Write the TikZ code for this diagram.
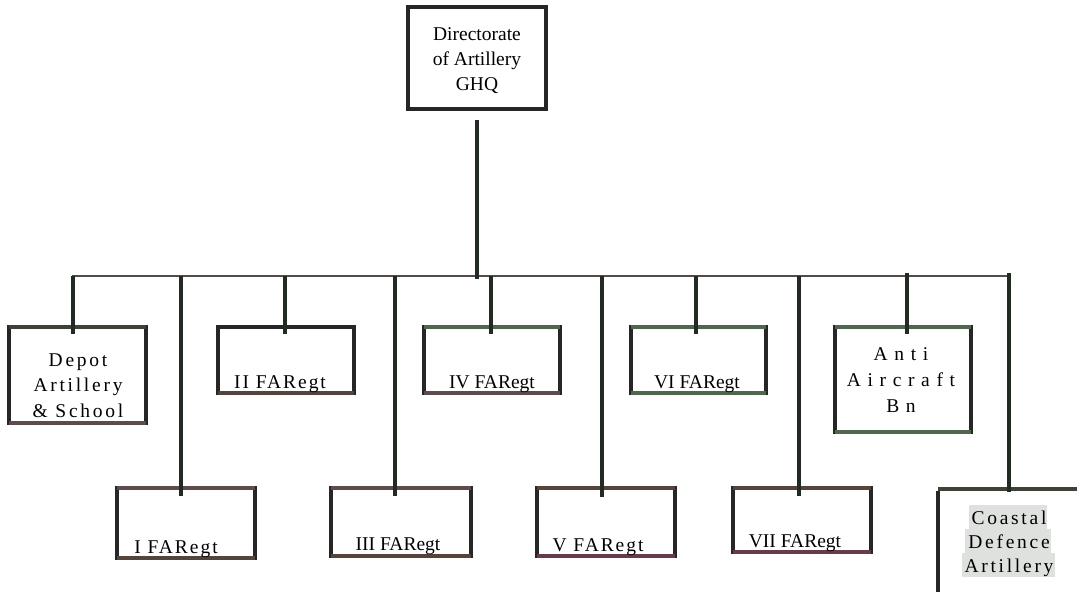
\documentclass[tikz,border=0pt]{standalone}
\usepackage{fontspec}
\setmainfont{Liberation Serif}
% tracked variants of the serif face
\newfontfamily\trackA[LetterSpace=10]{Liberation Serif}
\newfontfamily\trackB[LetterSpace=14]{Liberation Serif}
\newfontfamily\trackC[LetterSpace=34]{Liberation Serif}

\definecolor{edgec}{HTML}{262626}
\definecolor{busc}{HTML}{574A4C}
\definecolor{dropc}{HTML}{212B21}
\definecolor{olivec}{HTML}{3D4235}
\definecolor{greenc}{HTML}{4D684D}
\definecolor{brownc}{HTML}{55443C}
\definecolor{maroonc}{HTML}{6A3A48}
\definecolor{mauvec}{HTML}{5E4C4C}
\definecolor{hlgray}{HTML}{DFE1DF}

% grey band behind each line of the coastal label
\newcommand{\hlband}[1]{{\setlength{\fboxsep}{0pt}\colorbox{hlgray}{\rule[-5pt]{0pt}{24.5pt}\hspace{3pt}#1\hspace{1pt}}}}

\begin{document}
\begin{tikzpicture}[x=1pt,y=-1pt,
  box/.style={draw=edgec, line width=3.2pt, rectangle, inner sep=0pt, outer sep=0pt},
  lbl/.style={font=\fontsize{19.5}{25}\selectfont, inner sep=0pt, align=center, anchor=base},
  busline/.style={draw=busc, line width=2.5pt},
  drop/.style={draw=dropc, line width=3.1pt},
  rim/.style={line width=3.2pt}]

\useasboundingbox (0,0) rectangle (1077,592);

% ---- boxes ----
\node[box, minimum width=138pt, minimum height=102pt] (dir) at (477,58) {};
\node[box, minimum width=137pt, minimum height=96pt]  (depot) at (77.5,375) {};
\node[box, minimum width=136pt, minimum height=66pt]  (r2) at (286,360) {};
\node[box, minimum width=138pt, minimum height=70pt]  (r1) at (186,523) {};
\node[box, minimum width=140pt, minimum height=68pt]  (r3) at (401,522) {};
\node[box, minimum width=136pt, minimum height=66pt]  (r4) at (492,360) {};
\node[box, minimum width=138pt, minimum height=68pt]  (r5) at (606,522) {};
\node[box, minimum width=135pt, minimum height=66pt]  (r6) at (698.5,360) {};
\node[box, minimum width=138pt, minimum height=64pt]  (r7) at (802,520) {};
\node[box, minimum width=136pt, minimum height=105pt] (aa) at (903,379.5) {};
\node[rectangle, inner sep=0pt, outer sep=0pt, minimum width=141pt, minimum height=106pt] (cda) at (1008.5,542) {};

% tinted top and bottom rims
\draw[rim, olivec]  (depot.north west) -- (depot.north east);
\draw[rim, mauvec]  (depot.south west) -- (depot.south east);
\draw[rim, brownc]  (r2.south west) -- (r2.south east);
\draw[rim, mauvec]  (r1.north west) -- (r1.north east);
\draw[rim, brownc]  (r1.south west) -- (r1.south east);
\draw[rim, mauvec]  (r3.north west) -- (r3.north east);
\draw[rim, brownc]  (r3.south west) -- (r3.south east);
\draw[rim, greenc]  (r4.north west) -- (r4.north east);
\draw[rim, mauvec]  (r4.south west) -- (r4.south east);
\draw[rim, brownc]  (r5.north west) -- (r5.north east);
\draw[rim, maroonc] (r5.south west) -- (r5.south east);
\draw[rim, greenc]  (r6.north west) -- (r6.north east);
\draw[rim, greenc]  (r6.south west) -- (r6.south east);
\draw[rim, brownc]  (r7.north west) -- (r7.north east);
\draw[rim, maroonc] (r7.south west) -- (r7.south east);
\draw[rim, greenc]  (aa.north west) -- (aa.north east);
\draw[rim, greenc]  (aa.south west) -- (aa.south east);
% coastal box: open at the right and bottom
\draw[rim, edgec] ([yshift=-1.6pt]cda.north west) -- (cda.south west);
\draw[rim, olivec] (cda.north west) -- (cda.north east);

% ---- labels (base = baseline of the last line) ----
\node[lbl] (dir-t) at (477,90) {Directorate\\of Artillery\\GHQ};
\node[lbl, font=\fontsize{19.5}{25.5}\selectfont\trackB] (depot-t) at (78,417) {Depot\\Artillery\\\&~School};
\node[lbl, font=\fontsize{19.5}{25}\selectfont\trackA] (r2-t) at (280,388) {II FARegt};
\node[lbl, font=\fontsize{19.5}{25}\selectfont\trackA] (r1-t) at (176,553) {I FARegt};
\node[lbl] (r3-t) at (398,550) {III FARegt};
\node[lbl] (r4-t) at (492,388) {IV FARegt};
\node[lbl, font=\fontsize{19.5}{25}\selectfont\trackA] (r5-t) at (598,551) {V FARegt};
\node[lbl] (r6-t) at (697,388) {VI FARegt};
\node[lbl] (r7-t) at (795,547) {VII FARegt};
\node[lbl, font=\fontsize{19.5}{26}\selectfont\trackC] (aa-t) at (901,412) {Anti\\Aircraft\\Bn};
\node[lbl, font=\fontsize{19.5}{24.5}\selectfont\trackB] (cda-t) at (1008,572)
  {\hlband{Coastal}\\[-0.5pt]\hlband{Defence}\\[-0.5pt]\hlband{Artillery}};

% ---- connectors ----
\coordinate (busL) at (72,276);
\coordinate (busR) at (1010,276);
\coordinate (j0) at (73,276);
\coordinate (j1) at (181,276);
\coordinate (j2) at (285,276);
\coordinate (j3) at (395,276);
\coordinate (j4) at (491,276);
\coordinate (j5) at (602,276);
\coordinate (j6) at (696,276);
\coordinate (j7) at (799,276);
\coordinate (j8) at (907,273);
\coordinate (j9) at (1009,273);

\draw[busline] (busL) -- (busR);
\draw[drop] ([yshift=-11pt]dir.south) -- ([yshift=-3pt]dir.south |- busL);
\draw[drop] (j0) -- ([yshift=-7pt]j0 |- depot.north);
\draw[drop] (j1) -- ([yshift=-8pt]j1 |- r1.north);
\draw[drop] (j2) -- ([yshift=-7pt]j2 |- r2.north);
\draw[drop] (j3) -- ([yshift=-8pt]j3 |- r3.north);
\draw[drop] (j4) -- ([yshift=-7pt]j4 |- r4.north);
\draw[drop] (j5) -- ([yshift=-9pt]j5 |- r5.north);
\draw[drop] (j6) -- ([yshift=-7pt]j6 |- r6.north);
\draw[drop] (j7) -- ([yshift=-8pt]j7 |- r7.north);
\draw[drop] (j8) -- ([yshift=-7pt]j8 |- aa.north);
\draw[drop] (j9) -- ([yshift=-3pt]j9 |- cda.north);
\end{tikzpicture}
\end{document}
